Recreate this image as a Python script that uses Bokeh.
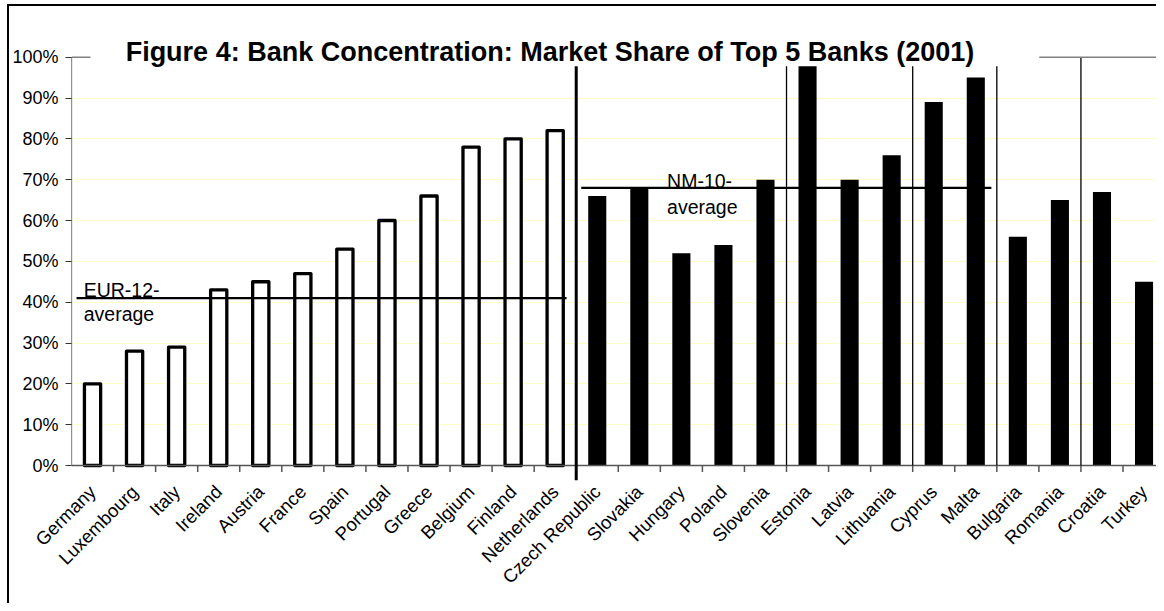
import math
from bokeh.plotting import figure
from bokeh.models import FixedTicker, Range1d, Label, ColumnDataSource
from bokeh.core.properties import value
from bokeh.embed import file_html
from bokeh.resources import INLINE

# ---------------- data ----------------
countries = ["Germany", "Luxembourg", "Italy", "Ireland", "Austria", "France",
             "Spain", "Portugal", "Greece", "Belgium", "Finland", "Netherlands",
             "Czech Republic", "Slovakia", "Hungary", "Poland", "Slovenia",
             "Estonia", "Latvia", "Lithuania", "Cyprus", "Malta",
             "Bulgaria", "Romania", "Croatia", "Turkey"]
shares = [20, 28, 29, 43, 45, 47, 53, 60, 66, 78, 80, 82,
          66, 68, 52, 54, 70, 98, 70, 76, 89, 95,
          56, 65, 67, 45]
n_eur = 12                      # first 12 = EUR-12 (white bars)
eur_average = 41
nm_average = 68
group_breaks = [17, 20, 22, 24]  # thin separators (category boundaries)
y_ticks = [0, 10, 20, 30, 40, 50, 60, 70, 80, 90, 100]
y_tick_labels = ["0%", "10%", "20%", "30%", "40%", "50%", "60%", "70%", "80%", "90%", "100%"]
title_text = "Figure 4: Bank Concentration: Market Share of Top 5 Banks (2001)"
eur_label = ["EUR-12-", "average"]
nm_label = ["NM-10-", "average"]

FONT = "Liberation Sans"
N = len(countries)
W, H = 1156, 603
LEFT, BOTTOM_PX = 71, 480            # frame left edge, frame bottom edge (px)
PX_PER_CAT = 42.06
PX_PER_PCT = 4.083
ZERO_PX = 465                         # pixel row of 0%
XMAX = (W - LEFT) / PX_PER_CAT
YMAX = ZERO_PX / PX_PER_PCT
YMIN = -(BOTTOM_PX - ZERO_PX) / PX_PER_PCT

p = figure(width=W, height=H,
           x_range=Range1d(0, XMAX), y_range=Range1d(YMIN, YMAX),
           output_backend="svg", toolbar_location=None,
           min_border_left=LEFT, min_border_right=0,
           min_border_top=0, min_border_bottom=H - BOTTOM_PX)
p.outline_line_color = None
p.background_fill_color = None
p.border_fill_color = None
# outer chart-area border (left + top) painted behind the transparent canvas
p.styles = {
    "background-color": "white",
    "background-image": "linear-gradient(#000, #000), linear-gradient(#000, #000)",
    "background-size": "2px 100%, 100% 2px",
    "background-position": "7px 4px, 7px 4px",
    "background-repeat": "no-repeat, no-repeat",
    "background-attachment": "fixed, fixed",
}

# grid
p.xgrid.visible = False
p.ygrid.ticker = FixedTicker(ticks=y_ticks[1:-1])
p.ygrid.grid_line_color = "#FFFFC4"
p.ygrid.grid_line_width = 1

# y axis
ya = p.yaxis[0]
ya.ticker = FixedTicker(ticks=y_ticks)
ya.major_label_overrides = {t: l for t, l in zip(y_ticks, y_tick_labels)}
ya.axis_line_color = None
ya.major_tick_out = 6
ya.major_tick_in = 0
ya.minor_tick_line_color = None
ya.major_tick_line_color = "#333333"
ya.major_tick_line_width = 1.2
ya.major_label_text_font = FONT
ya.major_label_text_font_size = "18px"
ya.major_label_text_color = "black"
ya.major_label_standoff = 7

# x axis (labels only, at category centres)
centers = [i + 0.5 for i in range(N)]
xa = p.xaxis[0]
xa.ticker = FixedTicker(ticks=centers)
xa.major_label_overrides = {c: name for c, name in zip(centers, countries)}
xa.axis_line_color = None
xa.major_tick_line_color = None
xa.minor_tick_line_color = None
xa.major_label_orientation = math.pi / 4
xa.major_label_text_font = FONT
xa.major_label_text_font_size = "18.5px"
xa.major_label_text_color = "black"
xa.major_label_standoff = 2

# bars
eur_src = ColumnDataSource(dict(x=centers[:n_eur], top=shares[:n_eur]))
nm_src = ColumnDataSource(dict(x=centers[n_eur:], top=shares[n_eur:]))
p.vbar(x="x", top="top", bottom=0, width=0.385, source=eur_src,
       fill_color="white", line_color="black", line_width=3.3, line_join="round")
p.vbar(x="x", top="top", bottom=0, width=0.43, source=nm_src,
       fill_color="black", line_color=None)

# axis lines drawn manually
p.segment(x0=[0], y0=[0], x1=[XMAX], y1=[0], line_color="#555555", line_width=1.5)
p.segment(x0=[0], y0=[0], x1=[0], y1=[100], line_color="#222222", line_width=1.2)
bounds = list(range(1, N))
p.segment(x0=bounds, y0=[0] * len(bounds), x1=bounds, y1=[-1.6] * len(bounds),
          line_color="#555555", line_width=1.5)

# averages
p.segment(x0=[0.12], y0=[eur_average], x1=[n_eur - 0.23], y1=[eur_average],
          line_color="black", line_width=2.4)
p.segment(x0=[n_eur + 0.12], y0=[nm_average], x1=[21.87], y1=[nm_average],
          line_color="black", line_width=2.4)

# group separators
p.segment(x0=group_breaks, y0=[0] * len(group_breaks), x1=group_breaks,
          y1=[100] * len(group_breaks), line_color="black", line_width=1.3)
p.segment(x0=[n_eur], y0=[YMIN], x1=[n_eur], y1=[100],
          line_color="black", line_width=3)

# plot-area top border
p.segment(x0=[0], y0=[100], x1=[XMAX], y1=[100], line_color="#808080", line_width=1.5)

# title box (white) covering top of plot area
p.quad(left=[0.45], right=[23.01], bottom=[97.8], top=[110.9],
       fill_color="white", line_color=None)

# annotation texts
p.text(x=[0.29, 0.29], y=[43.1, 37.0], text=eur_label,
       text_font=value(FONT), text_font_size="19.5px", text_color="black",
       text_align="left", text_baseline="alphabetic")
p.text(x=[14.16, 14.16], y=[69.8, 63.3], text=nm_label,
       text_font=value(FONT), text_font_size="19.5px", text_color="black",
       text_align="left", text_baseline="alphabetic")

title = Label(x=11.376, y=101.27, text=title_text, text_font=FONT,
              text_font_size="27px", text_font_style="bold", text_color="black",
              text_align="center", text_baseline="alphabetic")
p.add_layout(title)

open("out.html", "w").write(file_html(p, INLINE))
